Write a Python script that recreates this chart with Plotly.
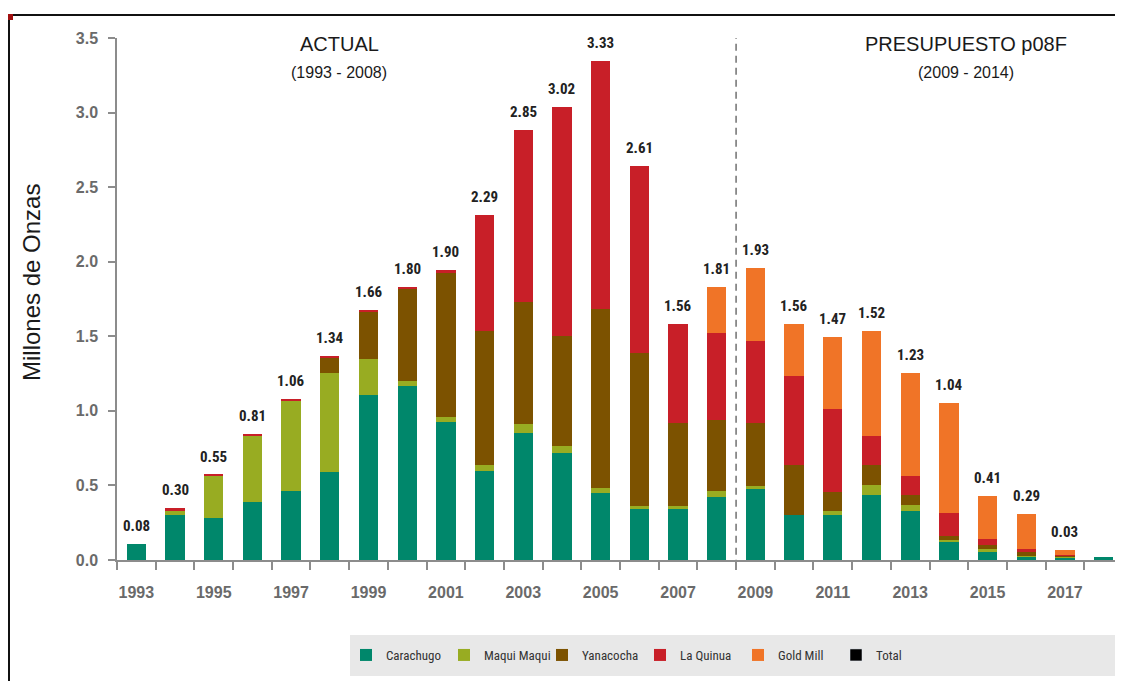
import plotly.graph_objects as go

years = list(range(1993, 2019))
carachugo = [0.105, 0.30, 0.28, 0.39, 0.465, 0.59, 1.105, 1.165, 0.925, 0.60, 0.85, 0.72, 0.447, 0.34, 0.34, 0.42,
             0.478, 0.30, 0.30, 0.436, 0.328, 0.123, 0.056, 0.022, 0.018, 0.022]
maqui_maqui = [0.0, 0.03, 0.285, 0.44, 0.605, 0.665, 0.245, 0.035, 0.035, 0.04, 0.06, 0.045, 0.038, 0.022, 0.022, 0.042,
               0.02, 0.0, 0.028, 0.067, 0.041, 0.011, 0.016, 0.005, 0.003, 0.0]
yanacocha = [0.0, 0.005, 0.0, 0.0, 0.0, 0.10, 0.315, 0.62, 0.97, 0.895, 0.82, 0.74, 1.20, 1.023, 0.555, 0.48,
             0.418, 0.337, 0.13, 0.134, 0.067, 0.029, 0.028, 0.03, 0.01, 0.0]
la_quinua = [0.0, 0.012, 0.006, 0.015, 0.01, 0.015, 0.012, 0.012, 0.012, 0.775, 1.15, 1.53, 1.66, 1.255, 0.665, 0.58,
             0.555, 0.596, 0.554, 0.194, 0.129, 0.15, 0.041, 0.016, 0.003, 0.0]
gold_mill = [0.0, 0.0, 0.0, 0.0, 0.0, 0.0, 0.0, 0.0, 0.0, 0.0, 0.0, 0.0, 0.0, 0.0, 0.0, 0.31,
             0.487, 0.347, 0.48, 0.706, 0.686, 0.741, 0.29, 0.236, 0.035, 0.0]
total_labels = ["0.08", "0.30", "0.55", "0.81", "1.06", "1.34", "1.66", "1.80", "1.90", "2.29", "2.85", "3.02",
                "3.33", "2.61", "1.56", "1.81", "1.93", "1.56", "1.47", "1.52", "1.23", "1.04", "0.41", "0.29",
                "0.03", ""]
x_tick_years = list(range(1993, 2018, 2))
y_ticks = [0.0, 0.5, 1.0, 1.5, 2.0, 2.5, 3.0, 3.5]

series = [
    ("Carachugo", carachugo, "#00876b"),
    ("Maqui Maqui", maqui_maqui, "#98ac22"),
    ("Yanacocha", yanacocha, "#7c5200"),
    ("La Quinua", la_quinua, "#c81f28"),
    ("Gold Mill", gold_mill, "#f07427"),
]

NARROW = "Liberation Sans Narrow, Arial Narrow, Roboto Condensed, DejaVu Sans Condensed, sans-serif"
ARIAL = "Liberation Sans, Arial, sans-serif"


# window-pixel -> paper helpers (plot area in the window: x 117..1123, y 38..560)
def px(x):
    return (x - 117) / 1006


def py(y):
    return (560 - y) / 522


fig = go.Figure()
for name, vals, col in series:
    fig.add_trace(go.Bar(x=years, y=vals, name=name, marker=dict(color=col, line=dict(width=0)),
                         width=0.5))
fig.add_trace(go.Bar(x=years, y=[None] * len(years), name="Total", marker=dict(color="#000000"), width=0.5))

totals = [sum(v) for v in zip(carachugo, maqui_maqui, yanacocha, la_quinua, gold_mill)]
for yr, tot, lab in zip(years, totals, total_labels):
    if lab:
        fig.add_annotation(x=yr, y=tot, text="<b>" + lab + "</b>", showarrow=False, yanchor="bottom",
                           xanchor="center", yshift=7, font=dict(family=NARROW, size=15, color="#222222"))

# Divider between actual and budget
fig.add_shape(type="line", xref="x", yref="y", x0=2008.5, x1=2008.5, y0=-0.045, y1=3.5,
              line=dict(color="#707070", width=1.5, dash="7px,5px"))

# Section headers
for xc, yc, txt, fam, size in [
    (339, 44, "ACTUAL", ARIAL, 20),
    (339, 72, "(1993 - 2008)", ARIAL, 16),
    (966, 44, "PRESUPUESTO p08F", ARIAL, 20),
    (966, 72, "(2009 - 2014)", ARIAL, 16),
]:
    fig.add_annotation(xref="paper", yref="paper", x=px(xc), y=py(yc), text=txt, showarrow=False,
                       xanchor="center", yanchor="middle", font=dict(family=fam, size=size, color="#1a1a1a"))

# Y axis title
fig.add_annotation(xref="paper", yref="paper", x=px(31), y=py(283), xanchor="center", yanchor="middle",
                   text="Millones de Onzas", textangle=-90, showarrow=False,
                   font=dict(family=ARIAL, size=24, color="#1a1a1a"))

# Frame lines (top and left) and corner mark
fig.add_shape(type="line", xref="paper", yref="paper", x0=px(9), x1=px(1130),
              y0=py(15), y1=py(15), line=dict(color="#111111", width=2))
fig.add_shape(type="line", xref="paper", yref="paper", x0=px(9), x1=px(9),
              y0=py(15), y1=py(690), line=dict(color="#111111", width=2))
fig.add_shape(type="rect", xref="paper", yref="paper", x0=px(8), x1=px(13),
              y0=py(14), y1=py(20), line=dict(width=0), fillcolor="#a01010")

# Legend background
fig.add_shape(type="rect", xref="paper", yref="paper", x0=px(350), x1=px(1123),
              y0=py(635), y1=py(676), line=dict(width=0), fillcolor="#e8e8e8", layer="below")

# The page body adds an 8px offset, so the figure is 8px smaller than the window
fig.update_layout(
    width=1115, height=673,
    margin=dict(l=109, r=0, t=30, b=121, autoexpand=False),
    barmode="stack",
    plot_bgcolor="white", paper_bgcolor="white",
    showlegend=True,
    legend=dict(orientation="h", x=px(346), y=py(655), xanchor="left", yanchor="middle",
                bgcolor="rgba(0,0,0,0)", font=dict(family=NARROW, size=13, color="#333333"),
                itemwidth=30, entrywidth=53, entrywidthmode="pixels", traceorder="normal"),
    xaxis=dict(range=[1992.5, 2018.5], tickmode="array", tickvals=x_tick_years,
               ticktext=[str(y) for y in x_tick_years], ticks="", ticklabelstandoff=17,
               showline=True, linecolor="#8c8c8c", linewidth=1.5, showgrid=False, zeroline=False,
               tickfont=dict(family=ARIAL, size=16, color="#6a6a6a", weight="bold"),
               minor=dict(tickmode="array", tickvals=[y + 0.5 for y in range(1992, 2018)],
                          ticks="outside", ticklen=8, tickcolor="#8c8c8c", tickwidth=1.5, showgrid=False)),
    yaxis=dict(range=[0, 3.5], tickmode="array", tickvals=y_ticks, ticktext=[f"{v:.1f}" for v in y_ticks],
               ticks="outside", ticklen=7, tickcolor="#8c8c8c", tickwidth=1.5, ticklabelstandoff=7,
               showline=True, linecolor="#8c8c8c", linewidth=1.5, showgrid=False, zeroline=False,
               tickfont=dict(family=ARIAL, size=16, color="#6a6a6a", weight="bold")),
    bargap=0.5,
)

fig.write_html("out.html")
